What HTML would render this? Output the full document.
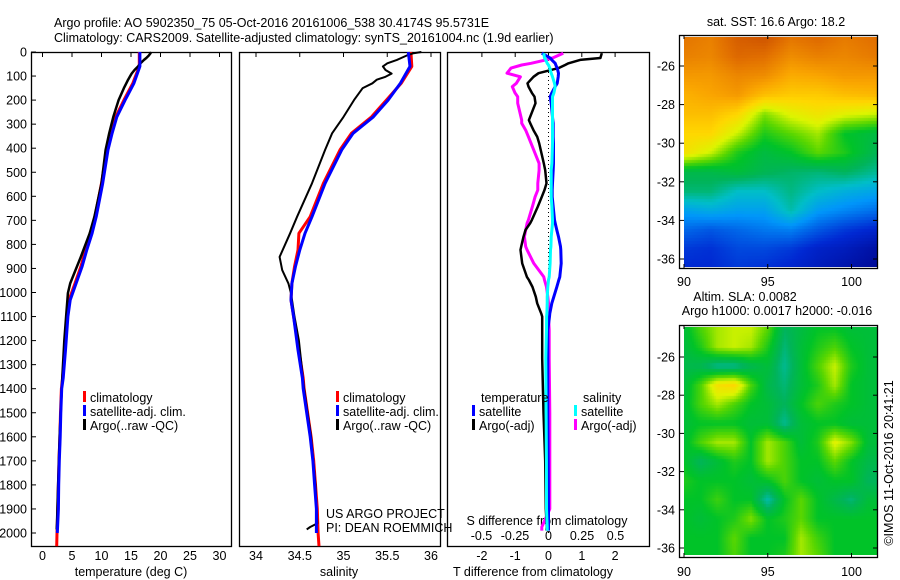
<!DOCTYPE html>
<html><head><meta charset="utf-8">
<style>
html,body{margin:0;padding:0;background:#fff;}
#root{position:relative;width:900px;height:580px;overflow:hidden;font-family:"Liberation Sans",sans-serif;}
canvas{position:absolute;}
svg{position:absolute;left:0;top:0;}
text{font-family:"Liberation Sans",sans-serif;font-size:12.5px;fill:#000;}
</style></head>
<body>
<div id="root">
<canvas id="sst" width="193" height="230" style="left:684px;top:37px"></canvas>
<canvas id="sla" width="193" height="228" style="left:684px;top:327px"></canvas>
<svg id="fig" width="900" height="580"></svg>
</div>
<script>
// ---------- data ----------
const depthTicks=[0,100,200,300,400,500,600,700,800,900,1000,1100,1200,1300,1400,1500,1600,1700,1800,1900,2000];
const tTicks=[0,5,10,15,20,25,30];
const sTicks=[34,34.5,35,35.5,36];
const tdTicks=[-2,-1,0,1,2];
const sdTicks=[-0.5,-0.25,0,0.25,0.5];
const sdTickLabels=["-0.5","-0.25","0","0.25","0.5"];

const climDepth=[0,60,130,200,270,338,407,546,685,754,823,893,962,1031,1100,1239,1356,1400,1500,1600,1700,1800,1900,2000,2055];
const climT=[16.4,16.4,15.3,13.8,12.4,11.6,10.9,10.0,8.9,8.2,7.3,6.5,5.5,4.5,4.1,3.8,3.4,3.2,3.05,2.95,2.8,2.7,2.6,2.45,2.4];
const satT=[16.5,16.5,15.5,14.0,12.6,11.8,11.1,10.2,9.1,8.4,7.5,6.7,5.7,4.7,4.3,3.9,3.5,3.25,3.1,3.0,2.85,2.75,2.7,2.5];
const climS=[35.77,35.78,35.66,35.49,35.32,35.09,34.96,34.77,34.62,34.49,34.48,34.44,34.41,34.40,34.43,34.49,34.54,34.55,34.59,34.63,34.66,34.68,34.70,34.71,34.72];
const satS=[35.74,35.76,35.65,35.51,35.34,35.11,34.98,34.79,34.64,34.56,34.50,34.45,34.41,34.40,34.43,34.48,34.53,34.54,34.58,34.62,34.65,34.67,34.69,34.69];

const argoDepth=[0,5,15,25,33,47,60,75,90,103,115,130,150,200,270,338,407,546,685,754,852,907,962,1003,1100,1200,1400,1600,1800,1960,1975,1985];
const argoT=[18.4,18.3,18.0,17.6,17.2,16.6,16.2,15.6,15.1,14.8,14.5,14.2,13.8,12.9,12.0,11.3,10.7,10.0,8.8,8.0,6.5,5.6,4.7,4.3,4.0,3.7,3.25,2.9,2.65,2.45,2.42,2.4];
const argoS=[35.89,35.8,35.72,35.66,35.61,35.50,35.45,35.48,35.55,35.48,35.38,35.33,35.22,35.12,35.0,34.87,34.79,34.64,34.47,34.39,34.27,34.30,34.37,34.40,34.44,34.49,34.55,34.63,34.68,34.70,34.62,34.58];

const dDepth=[5,25,33,47,54,67,88,103,130,144,170,186,213,283,296,325,352,380,463,491,546,574,602,643,698,712,740,768,809,823,879,935,948,977,1018,1045,1087,1100,1156,1274,1500,1700,1900,1975,1990];
const tdSat=[-0.2,0.05,0.1,0.2,0.22,0.26,0.3,0.29,0.26,0.2,0.1,0.05,0.08,0.13,0.14,0.14,0.14,0.15,0.15,0.14,0.12,0.11,0.11,0.14,0.18,0.2,0.25,0.3,0.36,0.37,0.38,0.34,0.31,0.25,0.16,0.1,0.04,0.03,-0.02,-0.02,-0.02,-0.01,0.0,0.0,0.0];
const tdArgo=[1.6,1.56,0.95,0.6,0.5,0.3,-0.3,-0.45,-0.63,-0.6,-0.5,-0.42,-0.39,-0.59,-0.55,-0.45,-0.34,-0.28,-0.14,-0.1,-0.06,-0.12,-0.2,-0.32,-0.5,-0.55,-0.69,-0.75,-0.82,-0.84,-0.79,-0.65,-0.59,-0.48,-0.38,-0.34,-0.22,-0.19,-0.19,-0.19,-0.15,-0.1,-0.08,-0.05,-0.06];
const sdSat=[-0.035,-0.03,-0.02,-0.01,0.0,0.01,0.02,0.03,0.045,0.05,0.04,0.03,0.03,0.03,0.03,0.03,0.03,0.03,0.025,0.02,0.02,0.02,0.02,0.025,0.03,0.03,0.025,0.02,0.018,0.015,0.012,0.005,0.0,-0.005,-0.01,-0.01,-0.012,-0.014,-0.015,-0.02,-0.018,-0.016,-0.015,-0.01,-0.01];
const sdArgo=[0.11,0.03,-0.02,-0.13,-0.2,-0.28,-0.31,-0.21,-0.24,-0.27,-0.25,-0.23,-0.23,-0.2,-0.2,-0.17,-0.15,-0.13,-0.07,-0.07,-0.08,-0.08,-0.1,-0.12,-0.15,-0.16,-0.17,-0.18,-0.17,-0.16,-0.11,-0.035,-0.03,-0.015,-0.005,0.0,0.0,0.0,0.005,0.005,0.01,0.01,0.01,-0.05,-0.05];

const sstLats=[-24.5,-25.5,-26.5,-27.5,-28.5,-29.5,-30.5,-31.5,-32.5,-33.5,-34.5,-35.5,-36.5];
const sstLons=[90,91.6,93.2,94.8,96.4,98,99.6,101.4];
const sstVals=[
[0.86,0.84,0.9,0.92,0.86,0.88,0.85,0.87],
[0.84,0.83,0.88,0.87,0.82,0.84,0.83,0.85],
[0.8,0.8,0.83,0.82,0.77,0.78,0.8,0.8],
[0.76,0.78,0.8,0.74,0.72,0.72,0.74,0.75],
[0.74,0.74,0.7,0.58,0.64,0.67,0.64,0.62],
[0.7,0.7,0.62,0.52,0.56,0.6,0.5,0.47],
[0.68,0.62,0.52,0.47,0.5,0.56,0.52,0.45],
[0.46,0.46,0.48,0.45,0.43,0.42,0.44,0.4],
[0.42,0.42,0.36,0.36,0.41,0.36,0.33,0.31],
[0.3,0.32,0.3,0.3,0.38,0.29,0.26,0.23],
[0.22,0.2,0.22,0.24,0.25,0.2,0.16,0.13],
[0.16,0.15,0.18,0.18,0.16,0.12,0.1,0.06],
[0.14,0.14,0.16,0.15,0.13,0.1,0.07,0.04]];

const slaLats=[-24.5,-25.5,-26.5,-27.5,-28.5,-29.5,-30.5,-31.5,-32.5,-33.5,-34.5,-35.5,-36.5];
const slaLons=[90,91,92,93,94,95,96,97,98,99,100,101,101.4];
const slaVals=[
[0.48,0.55,0.6,0.62,0.62,0.56,0.44,0.47,0.5,0.5,0.48,0.48,0.48],
[0.47,0.52,0.6,0.62,0.6,0.52,0.42,0.48,0.52,0.55,0.5,0.48,0.48],
[0.46,0.45,0.4,0.4,0.45,0.48,0.4,0.48,0.55,0.62,0.52,0.48,0.48],
[0.47,0.55,0.68,0.7,0.55,0.46,0.42,0.48,0.52,0.6,0.5,0.48,0.48],
[0.48,0.55,0.6,0.55,0.5,0.48,0.44,0.5,0.55,0.52,0.5,0.48,0.48],
[0.48,0.5,0.5,0.5,0.48,0.48,0.4,0.48,0.5,0.5,0.48,0.48,0.48],
[0.48,0.55,0.6,0.6,0.5,0.6,0.55,0.48,0.52,0.64,0.58,0.48,0.48],
[0.5,0.44,0.48,0.52,0.5,0.6,0.55,0.5,0.5,0.56,0.5,0.46,0.46],
[0.52,0.5,0.5,0.5,0.48,0.5,0.55,0.5,0.48,0.5,0.5,0.44,0.44],
[0.5,0.5,0.54,0.5,0.5,0.38,0.5,0.56,0.5,0.46,0.42,0.48,0.48],
[0.5,0.48,0.5,0.52,0.58,0.5,0.52,0.56,0.5,0.5,0.5,0.5,0.5],
[0.5,0.5,0.5,0.56,0.5,0.5,0.5,0.6,0.54,0.5,0.5,0.5,0.5],
[0.5,0.5,0.5,0.55,0.5,0.5,0.52,0.6,0.56,0.5,0.5,0.5,0.5]];

// ---------- scales ----------
const Y0=52, PY=0.2405;
const yD=d=>Y0+d*PY;
const xT=t=>42.5+t*5.9;
const xS=s=>256+(s-34)*87.5;
const xTD=v=>548.5+v*33.3;
const xSD=v=>548.5+v*134;

const svg=document.getElementById('fig');
const NS='http://www.w3.org/2000/svg';
function el(tag,attrs,parent){const e=document.createElementNS(NS,tag);for(const k in attrs)e.setAttribute(k,attrs[k]);(parent||svg).appendChild(e);return e;}
function txt(x,y,s,anchor){const t=el('text',{x:x,y:y,'text-anchor':anchor||'start'});t.textContent=s;return t;}

// titles
let t;
t=txt(54,27,"Argo profile: AO 5902350_75 05-Oct-2016 20161006_538 30.4174S 95.5731E");


t=txt(54,42,"Climatology: CARS2009. Satellite-adjusted climatology: synTS_20161004.nc (1.9d earlier)");



// panel frames
const panels=[[31,231],[239,440],[447,649]];
panels.forEach((p,i)=>{
  const r=el('rect',{x:p[0]+0.5,y:52.5,width:p[1]-p[0],height:494,fill:'none',stroke:'#000','stroke-width':1.3});
  
  
});
// depth ticks & labels
depthTicks.forEach(d=>{
  const y=yD(d);
  el('line',{x1:31,x2:36,y1:y,y2:y,stroke:'#000','stroke-width':1});
  const l=txt(27,y+4.5,String(d),'end');
  
  
});
function xticks(vals,labels,fx,ylab){
  vals.forEach((v,i)=>{
    const x=fx(v);
    el('line',{x1:x,x2:x,y1:53,y2:57,stroke:'#000','stroke-width':1});
    const l=txt(x,ylab,labels[i],'middle');
    
    
  });
}
xticks(tTicks,tTicks.map(String),xT,560);
xticks(sTicks,sTicks.map(String),xS,560);
xticks(tdTicks,tdTicks.map(String),xTD,560);
sdTicks.forEach((v,i)=>{
  const l=txt(xSD(v),540,sdTickLabels[i],'middle');
  
  
});
t=txt(131,576,"temperature (deg C)",'middle');


t=txt(339,576,"salinity",'middle');


t=txt(533,576,"T difference from climatology",'middle');


t=txt(547,525,"S difference from climatology",'middle');



// zero dotted line
const zl=el('line',{x1:xTD(0),x2:xTD(0),y1:yD(0),y2:yD(2000),stroke:'#000','stroke-width':1,'stroke-dasharray':'1,3'});



function line(depths,vals,fx,color,w,name){
  const pts=vals.map((v,i)=>fx(v).toFixed(1)+','+yD(depths[i]).toFixed(1)).join(' ');
  const p=el('polyline',{points:pts,fill:'none',stroke:color,'stroke-width':w,'stroke-linejoin':'round'});
  
  
}
line(climDepth,climT,xT,'#ff0000',3,'climatology-temperature-line');
line(argoDepth,argoT,xT,'#000',2.5,'argo-temperature-line');
line(climDepth.slice(0,satT.length),satT,xT,'#0000ff',3,'satellite-temperature-line');
line(climDepth,climS,xS,'#ff0000',3,'climatology-salinity-line');
line(argoDepth,argoS,xS,'#000',2,'argo-salinity-line');
line(climDepth.slice(0,satS.length),satS,xS,'#0000ff',3,'satellite-salinity-line');
line(dDepth,sdArgo,xSD,'#ff00ff',3,'argo-salinity-diff-line');
line(dDepth,tdArgo,xTD,'#000',2.5,'argo-temperature-diff-line');
line(dDepth,tdSat,xTD,'#0000ff',3,'satellite-temperature-diff-line');
line(dDepth,sdSat,xSD,'#00ffff',3,'satellite-salinity-diff-line');

function legend(x,y,color,label,name){
  const g=el('g',{});
  
  
  el('rect',{x:x,y:y-7,width:3,height:11,fill:color},g);
  const tt=el('text',{x:x+7,y:y+4},g);tt.textContent=label;
}
legend(83,398,'#ff0000','climatology','legend-climatology');
legend(83,412,'#0000ff','satellite-adj. clim.','legend-satellite-adj');
legend(83,426,'#000','Argo(..raw -QC)','legend-argo');
legend(336,398,'#ff0000','climatology','legend-climatology-s');
legend(336,412,'#0000ff','satellite-adj. clim.','legend-satellite-adj-s');
legend(336,426,'#000','Argo(..raw -QC)','legend-argo-s');
t=txt(481,402,"temperature");


t=txt(583,402,"salinity");


legend(472,412,'#0000ff','satellite','legend-t-satellite');
legend(472,426,'#000','Argo(-adj)','legend-t-argo');
legend(574,412,'#00ffff','satellite','legend-s-satellite');
legend(574,426,'#ff00ff','Argo(-adj)','legend-s-argo');
t=txt(326,518,"US ARGO PROJECT");


t=txt(326,532,"PI: DEAN ROEMMICH");



// ---------- maps ----------
const cmapStops=[[0,[0,0,130]],[0.14,[0,40,210]],[0.28,[0,150,250]],[0.36,[0,190,200]],[0.44,[0,180,90]],[0.5,[0,195,40]],[0.56,[90,215,0]],[0.63,[220,245,0]],[0.7,[255,215,0]],[0.78,[250,165,0]],[0.87,[225,110,0]],[1,[175,40,0]]];
function cmap(v){
  v=Math.max(0,Math.min(1,v));
  for(let i=1;i<cmapStops.length;i++){
    if(v<=cmapStops[i][0]){const a=cmapStops[i-1],b=cmapStops[i];const f=(v-a[0])/(b[0]-a[0]);
      return 'rgb('+a[1].map((c,k)=>Math.round(c+(b[1][k]-c)*f)).join(',')+')';}
  }
  return 'rgb(175,40,0)';
}
function interp(arr,v){
  let i=0;while(i<arr.length-2&&v>arr[i+1])i++;
  const f=Math.max(0,Math.min(1,(v-arr[i])/(arr[i+1]-arr[i])));return [i,f];
}
function drawMap(id,lats,lons,vals,latTop,latPerPx,lonPerPx){
  const c=document.getElementById(id),ctx=c.getContext('2d');
  const latsAsc=lats.map(l=>-l);
  const step=3;
  for(let py=0;py<c.height;py+=step){
    const lat=-(latTop+ (py+1.5)*latPerPx);
    const [ri,rf]=interp(latsAsc,-lat);
    for(let px=0;px<c.width;px+=2){
      const lon=90+(px+1)*lonPerPx;
      const [ci,cf]=interp(lons,lon);
      const v=(vals[ri][ci]*(1-cf)+vals[ri][ci+1]*cf)*(1-rf)+(vals[ri+1][ci]*(1-cf)+vals[ri+1][ci+1]*cf)*rf;
      ctx.fillStyle=cmap(v);ctx.fillRect(px,py,2,step);
    }
  }
}
drawMap('sst',sstLats,sstLons,sstVals,24.5,1/19.3,1/16.75);
drawMap('sla',slaLats,slaLons,slaVals,24.45,1/19.1,1/16.75);

// map frames and ticks
function mapAxes(top,bot,lat0y,latStep,lonLabelY,prefix){
  const r=el('rect',{x:679.5,y:top+0.5,width:198,height:bot-top,fill:'none',stroke:'#000','stroke-width':1.3});
  
  
  [90,95,100].forEach(lon=>{
    const x=684+(lon-90)*16.75;
    el('line',{x1:x,x2:x,y1:top,y2:top+4,stroke:'#000'});
    el('line',{x1:x,x2:x,y1:bot,y2:bot-4,stroke:'#000'});
    const l=txt(x,lonLabelY,String(lon),'middle');
    
    
  });
  [-26,-28,-30,-32,-34,-36].forEach(lat=>{
    const y=lat0y+(-26-lat)*latStep;
    el('line',{x1:679,x2:684,y1:y,y2:y,stroke:'#000'});
    el('line',{x1:873,x2:878,y1:y,y2:y,stroke:'#000'});
    const l=txt(675,y+4.5,String(lat),'end');
    
    
  });
}
mapAxes(35,268,66,19.3,286,'sst-map');
mapAxes(325,557,357,19.1,576,'sla-map');
t=txt(776,26,"sat. SST: 16.6 Argo: 18.2",'middle');


t=txt(745,301,"Altim. SLA: 0.0082",'middle');


t=txt(777,315,"Argo h1000: 0.0017 h2000: -0.016",'middle');


t=txt(0,0,"©IMOS 11-Oct-2016 20:41:21",'middle');
t.setAttribute('transform','translate(893,463) rotate(-90)');


</script>
</body></html>
